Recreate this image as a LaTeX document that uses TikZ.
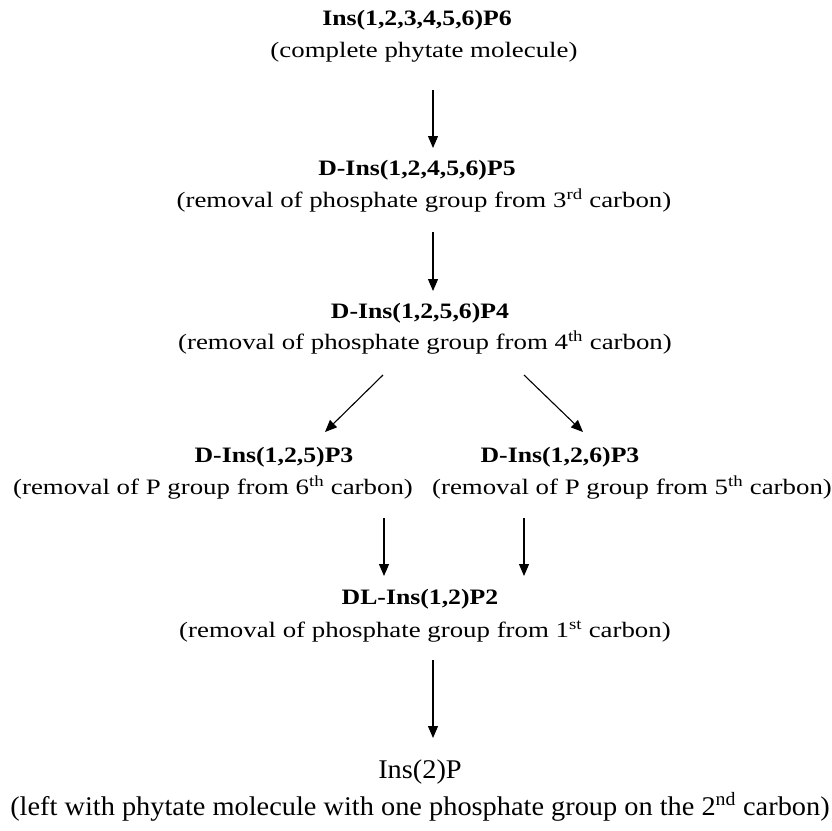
\documentclass[tikz,border=0pt]{standalone}
\usepackage{fontspec}
\setmainfont{Liberation Serif}
\newfontfamily\widefont[FakeStretch=1.17]{Liberation Serif}
\newfontfamily\capfont[FakeStretch=1.22]{Liberation Serif}
\newfontfamily\lastfont[FakeStretch=1.05]{Liberation Serif}
\usetikzlibrary{arrows.meta}
\begin{document}
\begin{tikzpicture}[x=1pt,y=-1pt,
  stagetitle/.style={font=\widefont\bfseries\fontsize{22}{26}\selectfont, inner sep=0pt, anchor=base},
  captxt/.style={font=\capfont\fontsize{22}{26}\selectfont, inner sep=0pt, anchor=base},
  bigtitle/.style={font=\lastfont\fontsize{27}{31}\selectfont, inner sep=0pt, anchor=base},
  bigcap/.style={font=\lastfont\fontsize{27}{31}\selectfont, inner sep=0pt, anchor=base},
  arr/.style={-{Triangle[length=12pt,width=10pt]}, line width=1.1pt}]
\useasboundingbox (0,0) rectangle (832,830);
\node[stagetitle] (t1) at (417,25) {Ins(1,2,3,4,5,6)P6};
\node[captxt] (c1) at (424,57) {(complete phytate molecule)};
\node[stagetitle] (t2) at (417,175) {D-Ins(1,2,4,5,6)P5};
\node[captxt] (c2) at (424,207) {(removal of phosphate group from 3\textsuperscript{rd} carbon)};
\node[stagetitle] (t3) at (420,318) {D-Ins(1,2,5,6)P4};
\node[captxt] (c3) at (425,349) {(removal of phosphate group from 4\textsuperscript{th} carbon)};
\node[stagetitle] (t4a) at (274,462) {D-Ins(1,2,5)P3};
\node[captxt] (c4a) at (213,494) {(removal of P group from 6\textsuperscript{th} carbon)};
\node[stagetitle] (t4b) at (560,462) {D-Ins(1,2,6)P3};
\node[captxt] (c4b) at (632,494) {(removal of P group from 5\textsuperscript{th} carbon)};
\node[stagetitle] (t5) at (420,604) {DL-Ins(1,2)P2};
\node[captxt] (c5) at (425,637) {(removal of phosphate group from 1\textsuperscript{st} carbon)};
\node[bigtitle] (t6) at (420,778) {Ins(2)P};
\node[bigcap] (c6) at (420,815) {(left with phytate molecule with one phosphate group on the 2\textsuperscript{nd} carbon)};
\coordinate (a1s) at (433,90);  \coordinate (a1e) at (433,148);
\coordinate (a2s) at (433,232); \coordinate (a2e) at (433,291);
\coordinate (a3s) at (383,375); \coordinate (a3e) at (325,432);
\coordinate (a4s) at (524,375); \coordinate (a4e) at (583,432);
\coordinate (a5s) at (384,518); \coordinate (a5e) at (384,576);
\coordinate (a6s) at (524,518); \coordinate (a6e) at (524,576);
\coordinate (a7s) at (433,660); \coordinate (a7e) at (433,738);
\draw[arr] (a1s) -- (a1e);
\draw[arr] (a2s) -- (a2e);
\draw[arr] (a3s) -- (a3e);
\draw[arr] (a4s) -- (a4e);
\draw[arr] (a5s) -- (a5e);
\draw[arr] (a6s) -- (a6e);
\draw[arr] (a7s) -- (a7e);
\end{tikzpicture}
\end{document}
